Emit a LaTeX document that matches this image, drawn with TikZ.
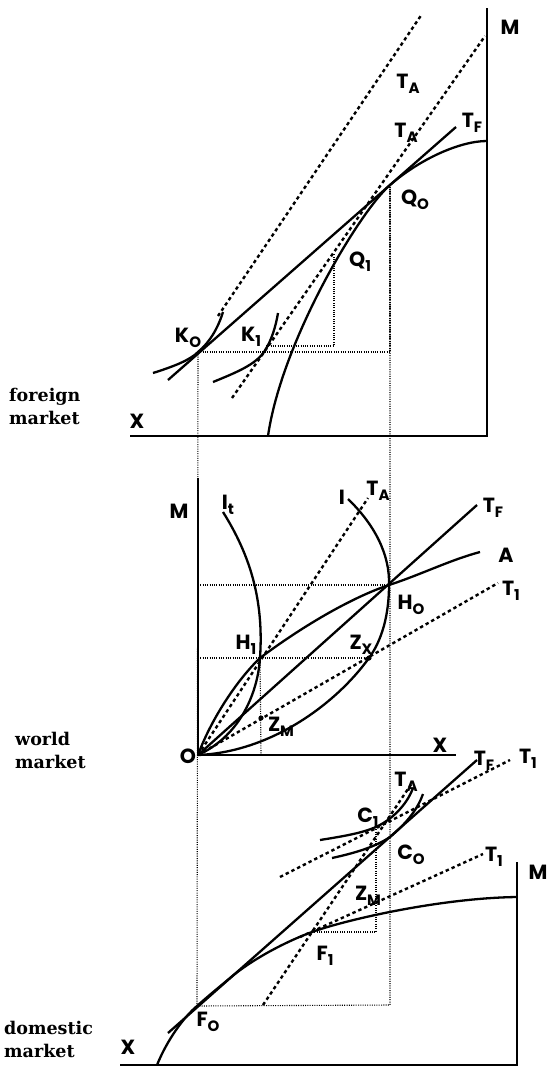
\documentclass[tikz,border=0pt]{standalone}
\usepackage{fontspec}
\setmainfont{DejaVu Serif}
\newfontfamily\labfont{Poppins}
\newfontfamily\sidefont{DejaVu Serif}
\newcommand{\lab}[2]{#1\raisebox{-0.45ex}{\fontsize{15}{15}\selectfont #2}}
\begin{document}
\begin{tikzpicture}[x=1pt,y=-1pt,
  axis/.style={line width=2.5pt},
  crv/.style={line width=2.3pt},
  dln/.style={line width=2.4pt,dash pattern=on 3.4pt off 3pt},
  dot/.style={line width=1.1pt,dash pattern=on 1pt off 1.3pt},
  lbl/.style={font=\labfont\bfseries\fontsize{20.5}{20.5}\selectfont,inner sep=0pt},
  side/.style={font=\sidefont\bfseries\fontsize{17.5}{23}\selectfont,align=left,inner sep=0pt,anchor=west}]
\useasboundingbox (0,0) rectangle (552,1072);
% ---------------- coordinates ----------------
% top panel
\coordinate (tM1) at (487,8); \coordinate (tO) at (487,436); \coordinate (tX) at (130,436);
\coordinate (Q0) at (390,185); \coordinate (Q1) at (334,254);
\coordinate (K0) at (198,352); \coordinate (K1) at (264,352);
\coordinate (tfA) at (168,380); \coordinate (tfB) at (456,127);
\coordinate (taA) at (218,316); \coordinate (taB) at (422,14);
\coordinate (tbA) at (232,398); \coordinate (tbB) at (485,36);
\coordinate (Q0x) at (390,352); \coordinate (Q1x) at (334,346); \coordinate (K1x) at (266,346);
% middle panel
\coordinate (O) at (198,755); \coordinate (mM) at (198,478); \coordinate (mX) at (456,755);
\coordinate (H0) at (389,585); \coordinate (H1) at (260,658);
\coordinate (Zx) at (369,658); \coordinate (Zm) at (261,718);
\coordinate (mTF) at (477,505); \coordinate (mTA) at (368,498); \coordinate (mT1) at (498,583);
\coordinate (H0y) at (198,585); \coordinate (H1y) at (198,658); \coordinate (H1x) at (261,755);
% bottom panel
\coordinate (bM) at (517,862); \coordinate (bO) at (517,1065); \coordinate (bX) at (120,1065);
\coordinate (F0) at (197,1006); \coordinate (F1) at (312,932);
\coordinate (C0) at (390,837); \coordinate (C1) at (376,827);
\coordinate (bTFa) at (168,1033); \coordinate (bTFb) at (477,760);
\coordinate (bT1a) at (280,877); \coordinate (bT1b) at (510,760);
\coordinate (bT2a) at (300,937); \coordinate (bT2b) at (483,854);
\coordinate (bTAa) at (263,1005); \coordinate (bTAb) at (412,783);
\coordinate (F1x) at (376,932); \coordinate (F0x) at (390,1005);
% ---------------- top: foreign market ----------------
\draw[axis] (tM1) -- (tO) -- (tX);
\draw[crv] (268,436) .. controls (282,340) and (360,211) .. (Q0) .. controls (420,159) and (460,141) .. (487,141);
\draw[crv] (tfA) -- (tfB);
\draw[dln] (taA) -- (taB);
\draw[dln] (tbA) -- (tbB);
\draw[crv] (153,373) .. controls (175,366) and (190,360) .. (K0) .. controls (210,342) and (218,328) .. (223,312);
\draw[crv] (213,382) .. controls (235,373) and (255,365) .. (K1) .. controls (272,340) and (276,325) .. (278,313);
\draw[dot] (K0) -- (Q0x) -- (Q0);
\draw[dot] (K1x) -- (Q1x) -- (Q1);
\draw[dot] (K0) -- (F0);
\draw[dot] (Q0) -- (F0x) -- (F0);
% ---------------- middle: world market ----------------
\draw[axis] (mM) -- (O) -- (mX);
\draw[crv] (O) -- (mTF);
\draw[dln] (O) -- (mTA);
\draw[dln] (O) -- (mT1);
\draw[crv] (O) .. controls (210,722) and (235,682) .. (H1) .. controls (300,628) and (350,598) .. (H0) .. controls (420,575) and (450,560) .. (480,552);
\draw[crv] (223,512) .. controls (250,555) and (264,600) .. (H1) .. controls (258,690) and (242,735) .. (O);
\draw[crv] (348,499) .. controls (375,525) and (390,555) .. (H0) .. controls (389,615) and (382,640) .. (Zx) .. controls (335,705) and (270,752) .. (O);
\draw[dot] (H0y) -- (H0);
\draw[dot] (H1y) -- (Zx);
\draw[dot] (H1) -- (H1x);
\fill (Zm) circle (2.6pt);
\fill (Zx) circle (2.6pt);
% ---------------- bottom: domestic market ----------------
\draw[axis] (bM) -- (bO) -- (bX);
\draw[crv] (157,1065) .. controls (168,1038) and (185,1016) .. (F0) .. controls (207,997) and (218,988) .. (230,978) .. controls (255,957) and (290,940) .. (F1) .. controls (345,920) and (440,898) .. (517,897);
\draw[crv] (bTFa) -- (bTFb);
\draw[dln] (bT1a) -- (bT1b);
\draw[dln] (bT2a) -- (bT2b);
\draw[dln] (bTAa) -- (bTAb);
\draw[crv] (320,840) .. controls (345,836) and (362,833) .. (C1) .. controls (395,818) and (408,802) .. (413,788);
\draw[crv] (332,858) .. controls (355,853) and (375,847) .. (C0) .. controls (408,822) and (418,808) .. (423,794);
\draw[dot] (C1) -- (F1x) -- (F1);
% ---------------- labels ----------------
\node[lbl] (lMt) at (510,27) {M};
\node[lbl] (lTAt1) at (408,84) {\lab{T}{A}};
\node[lbl] (lTAt2) at (406,133) {\lab{T}{A}};
\node[lbl] (lTFt) at (472,123) {\lab{T}{F}};
\node[lbl] (lQ0) at (415,200) {\lab{Q}{O}};
\node[lbl] (lQ1) at (360,262) {\lab{Q}{1}};
\node[lbl] (lK0) at (188,338) {\lab{K}{O}};
\node[lbl] (lK1) at (251,337) {\lab{K}{1}};
\node[lbl] (lXt) at (137,421) {X};
\node[lbl] (lMm) at (179,511) {M};
\node[lbl] (lIt) at (228,505) {\lab{I}{t}};
\node[lbl] (lI) at (342,497) {I};
\node[lbl] (lTAm) at (378,491) {\lab{T}{A}};
\node[lbl] (lTFm) at (493,508) {\lab{T}{F}};
\node[lbl] (lA) at (506,555) {A};
\node[lbl] (lT1m) at (511,591) {\lab{T}{1}};
\node[lbl] (lH0) at (411,605) {\lab{H}{O}};
\node[lbl] (lH1) at (246,645) {\lab{H}{1}};
\node[lbl] (lZx) at (361,645) {\lab{Z}{X}};
\node[lbl] (lZm) at (281,727) {\lab{Z}{M}};
\node[lbl] (lO) at (188,756) {O};
\node[lbl] (lXm) at (440,745) {X};
\node[lbl] (lTFb) at (484,761) {\lab{T}{F}};
\node[lbl] (lT1b) at (528,759) {\lab{T}{1}};
\node[lbl] (lTAb) at (406,782) {\lab{T}{A}};
\node[lbl] (lC1) at (368,818) {\lab{C}{1}};
\node[lbl] (lC0) at (411,855) {\lab{C}{O}};
\node[lbl] (lT1c) at (494,857) {\lab{T}{1}};
\node[lbl] (lMb) at (538,872) {M};
\node[lbl] (lZmb) at (368,896) {\lab{Z}{M}};
\node[lbl] (lF1) at (325,956) {\lab{F}{1}};
\node[lbl] (lF0) at (208,1022) {\lab{F}{O}};
\node[lbl] (lXb) at (128,1047) {X};
\node[side] (sf) at (9,406) {foreign\\market};
\node[side] (sw) at (15,750) {world\\market};
\node[side] (sd) at (4,1039) {domestic\\market};
\end{tikzpicture}
\end{document}
